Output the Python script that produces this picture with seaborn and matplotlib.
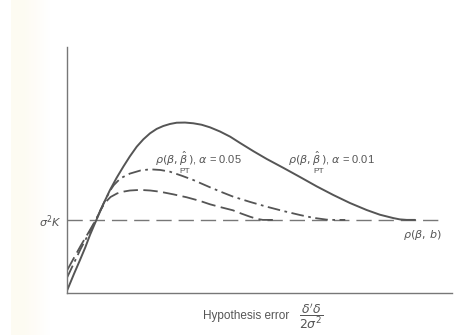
import numpy as np
import pandas as pd
import matplotlib
matplotlib.use("Agg")
import matplotlib.pyplot as plt
import seaborn as sns

# Hypothesis error (x) and risk (y) for each estimator
x_pt01 = [0.0, 0.1, 0.191, 0.27, 0.341, 0.442, 0.54, 0.642, 0.742, 0.842, 0.94, 1.044,
          1.144, 1.244, 1.344, 1.444, 1.545, 1.645, 1.77, 1.895, 2.02, 2.146, 2.296,
          2.45, 2.597, 2.8, 3.0, 3.25, 3.499, 3.75, 4.0, 4.25, 4.502, 4.70, 4.902,
          5.0, 5.104, 5.23]
y_pt01 = [0.052, 0.36, 0.629, 0.87, 1.11, 1.412, 1.70, 1.975, 2.21, 2.423, 2.62, 2.808,
          2.95, 3.065, 3.15, 3.206, 3.245, 3.269, 3.272, 3.258, 3.23, 3.18, 3.10,
          3.0, 2.88, 2.72, 2.571, 2.40, 2.225, 2.045, 1.879, 1.725, 1.59, 1.50, 1.435,
          1.41, 1.40, 1.40]

x_pt05 = [0.0, 0.1, 0.2, 0.32, 0.442, 0.54, 0.642, 0.70, 0.80, 0.94, 1.1, 1.244, 1.40,
          1.544, 1.72, 1.895, 2.146, 2.32, 2.496, 2.75, 2.998, 3.25, 3.499, 3.70, 3.90,
          4.0, 4.18]
y_pt05 = [0.30, 0.57, 0.84, 1.13, 1.43, 1.70, 1.96, 2.07, 2.20, 2.29, 2.35, 2.373, 2.36,
          2.327, 2.25, 2.167, 2.027, 1.935, 1.846, 1.745, 1.654, 1.57, 1.494, 1.44, 1.405,
          1.40, 1.40]

x_pre = [0.0, 0.1, 0.2, 0.32, 0.442, 0.50, 0.567, 0.65, 0.75, 0.85, 0.94, 1.093, 1.25,
         1.394, 1.6, 1.795, 1.995, 2.146, 2.32, 2.49, 2.62, 2.746, 2.85, 2.94, 3.1]
y_pre = [0.437, 0.67, 0.90, 1.16, 1.43, 1.59, 1.73, 1.84, 1.91, 1.945, 1.965, 1.977, 1.965,
         1.942, 1.89, 1.835, 1.765, 1.70, 1.64, 1.585, 1.52, 1.462, 1.42, 1.40, 1.40]

sigma2K = 1.40
x_ls = [0.0, 5.65]
y_ls = [sigma2K, sigma2K]

x_ticks = [1, 2, 3, 4, 5]
y_ticks = [sigma2K, 2, 3]
y_tick_labels = [r"$\sigma^2 K$", "", ""]

sns.set_style("white")
plt.rcParams["font.family"] = ["Liberation Sans", "DejaVu Sans"]
plt.rcParams["mathtext.fontset"] = "dejavusans"

fig = plt.figure(figsize=(4.55, 3.35), dpi=100)

# faint paper strip along the left edge
bg = fig.add_axes([0, 0, 1, 1], zorder=-10)
grad = np.ones((1, 455, 3))
cream = np.array([0.992, 0.975, 0.92])
for i in range(455):
    if i < 11:
        w = 0.0
    elif i < 24:
        w = 0.6
    elif i < 50:
        w = 0.6 * (1.0 - (i - 24) / 26)
    else:
        w = 0.0
    grad[0, i] = 1 - w * (1 - cream)
bg.imshow(grad, aspect="auto", extent=[0, 1, 0, 1])
bg.axis("off")

ax = fig.add_axes([67.3 / 455, (335 - 292.7) / 335, (452 - 67.3) / 455, (292.7 - 47) / 335])
ax.set_facecolor("none")

line_c = "#555555"
sns.lineplot(x=x_ls, y=y_ls, ax=ax, color="#777777", lw=1.0, sort=False,
             linestyle=(0, (11, 5)))
sns.lineplot(x=x_pre, y=y_pre, ax=ax, color=line_c, lw=1.3, sort=False,
             linestyle=(0, (8, 3)))
sns.lineplot(x=x_pt05, y=y_pt05, ax=ax, color=line_c, lw=1.3, sort=False,
             linestyle=(0, (7, 2.5, 1.5, 2.5)))
sns.lineplot(x=x_pt01, y=y_pt01, ax=ax, color=line_c, lw=1.4, sort=False)

ax.set_xlim(0, (452 - 67.3) / 66.5)
ax.set_ylim(0, (292.7 - 47) / 52)
ax.set_xticks(x_ticks)
ax.set_xticklabels([])
ax.set_yticks(y_ticks)
ax.set_yticklabels(y_tick_labels, fontsize=8, color="#555555")
ax.tick_params(axis="x", direction="in", length=8, width=1, color="#777777")
ax.tick_params(axis="y", direction="in", length=8, width=1, color="#777777", pad=4)
for s in ["top", "right"]:
    ax.spines[s].set_visible(False)
for s in ["left", "bottom"]:
    ax.spines[s].set_color("#777777")
    ax.spines[s].set_linewidth(1.0)

tc = "#555555"
ax.text(1.319, 2.58, r"$\rho(\beta,\hat{\beta}\,)$, $\alpha$ = 0.05", fontsize=8,
        color=tc, va="center", ha="left")
ax.text(1.77, 2.34, "PT", fontsize=6, color=tc, va="center", ha="center")
ax.text(3.317, 2.58, r"$\rho(\beta,\hat{\beta}\,)$, $\alpha$ = 0.01", fontsize=8,
        color=tc, va="center", ha="left")
ax.text(3.78, 2.34, "PT", fontsize=6, color=tc, va="center", ha="center")
ax.text(5.05, 1.11, r"$\rho(\beta,\,b)$", fontsize=8, color=tc, va="center", ha="left")

fig.text(203 / 455, 1 - 316 / 335, "Hypothesis error", fontsize=8.5, color=tc,
         va="center", ha="left")
fig.text(299 / 455, 1 - 316 / 335, r"$\dfrac{\delta'\delta}{2\sigma^2}$", fontsize=9,
         color=tc, va="center", ha="left")

fig.savefig("out.png", dpi=100)
